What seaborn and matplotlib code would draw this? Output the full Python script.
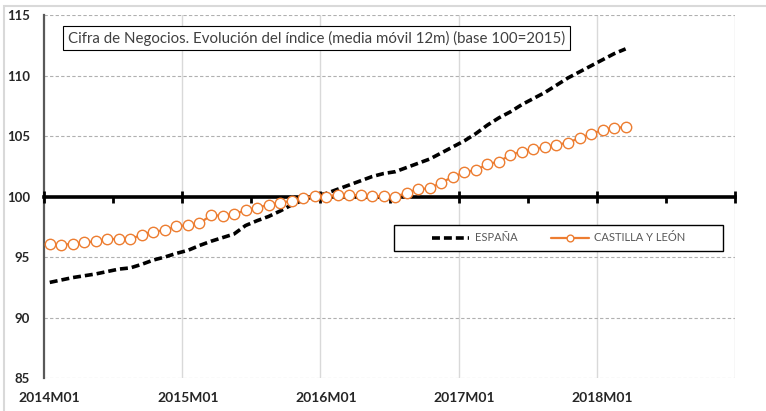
"""
plot.py

Cifra de Negocios: evolución del índice (media móvil 12m), España frente a
Castilla y León, con el eje horizontal cruzando en 100.
"""

# =========================
# Librerías necesarias
# =========================

import numpy as np
import pandas as pd
import matplotlib
matplotlib.use("Agg")
import matplotlib.pyplot as plt
from matplotlib.patches import Rectangle
from matplotlib.ticker import MultipleLocator
import seaborn as sns

# --------------------------------------------------------
# Datos (2014M01 - 2018M03)
# --------------------------------------------------------

espana = [
    92.9, 93.1, 93.3, 93.45, 93.6, 93.8, 94.0, 94.1, 94.4, 94.75,
    95.0, 95.3, 95.55, 95.95, 96.3, 96.6, 96.9, 97.6, 98.0, 98.35,
    98.8, 99.3, 99.7, 100.05, 100.25, 100.6, 100.95, 101.3, 101.65, 101.9,
    102.05, 102.4, 102.75, 103.1, 103.6, 104.1, 104.6, 105.2, 105.9, 106.5,
    107.0, 107.6, 108.1, 108.6, 109.2, 109.8, 110.3, 110.8, 111.3, 111.8,
    112.2,
]

castilla_leon = [
    96.05, 96.0, 96.1, 96.2, 96.3, 96.48, 96.5, 96.47, 96.85, 97.1,
    97.2, 97.55, 97.62, 97.78, 98.45, 98.42, 98.55, 98.85, 99.08, 99.3,
    99.5, 99.62, 99.85, 100.05, 100.0, 100.14, 100.14, 100.1, 100.02, 100.05,
    99.95, 100.33, 100.6, 100.68, 101.15, 101.62, 102.0, 102.18, 102.66, 102.88,
    103.44, 103.71, 103.9, 104.07, 104.26, 104.46, 104.82, 105.17, 105.5, 105.69,
    105.72,
]

etiquetas_anio = ["2014M01", "2015M01", "2016M01", "2017M01", "2018M01"]
n_meses_eje = 60

titulo = "Cifra de Negocios. Evolución del índice (media móvil 12m) (base 100=2015)"

# --------------------------------------------------------
# Estilo
# --------------------------------------------------------

sns.set_style("white")
plt.rcParams["font.family"] = ["Lato", "DejaVu Sans"]

NARANJA = "#ED7D31"
GRIS_REJILLA = "#d9d9d9"

fig = plt.figure(figsize=(7.66, 4.11), dpi=100)
ax = fig.add_axes([44 / 766, 1 - 378 / 411, 691 / 766, 363 / 411])

# marco exterior del gráfico (estilo Excel)
fig.add_artist(Rectangle((4 / 766, -0.1), 1.2, 1.1 - 6 / 411,
                         transform=fig.transFigure, fill=False,
                         ec=GRIS_REJILLA, lw=1.5))

# --- eje principal: rejilla, eje Y y etiquetas de años ---
ax.set_xlim(0, n_meses_eje)
ax.set_ylim(85, 115)
ax.yaxis.set_major_locator(MultipleLocator(5))
ax.yaxis.set_minor_locator(MultipleLocator(2.5))
ax.set_xticks(np.arange(len(etiquetas_anio)) * 12 + 0.5)
ax.set_xticklabels(etiquetas_anio)
ax.set_xticks(np.arange(12, n_meses_eje + 1, 12), minor=True)

ax.grid(axis="y", which="major", color="#b0b0b0", linestyle=(0, (3, 2)), lw=0.8)
ax.grid(axis="x", which="minor", color=GRIS_REJILLA, linestyle="-", lw=1.0)
ax.set_axisbelow(True)

for lado in ["top", "right", "bottom"]:
    ax.spines[lado].set_visible(False)
ax.spines["left"].set_color("#595959")
ax.spines["left"].set_linewidth(1.6)

ax.tick_params(axis="y", which="major", direction="out", length=4, width=1,
               color="#595959", pad=6, labelsize=9.5)
ax.tick_params(axis="y", which="minor", direction="out", length=3, width=1,
               color="#595959")
ax.tick_params(axis="x", which="both", length=0, pad=10, labelsize=10)
for t in ax.get_xticklabels() + ax.get_yticklabels():
    t.set_fontweight("bold")

ax.set_xlabel("")
ax.set_ylabel("")

# --- eje secundario: línea en 100 con marcas y series ---
ax2 = ax.twiny()
ax2.set_xlim(0, n_meses_eje)
for lado in ["top", "right", "left"]:
    ax2.spines[lado].set_visible(False)
ax2.spines["bottom"].set_position(("data", 100))
ax2.spines["bottom"].set_color("black")
ax2.spines["bottom"].set_linewidth(2.6)
ax2.xaxis.set_ticks_position("bottom")
ax2.set_xticks(np.arange(0, n_meses_eje + 1, 12))
ax2.set_xticks(np.arange(6, n_meses_eje, 12), minor=True)
ax2.tick_params(axis="x", which="major", direction="inout", length=8, width=2,
                color="black", labelbottom=False, labeltop=False)
ax2.tick_params(axis="x", which="minor", direction="out", length=4, width=2,
                color="black", labelbottom=False, labeltop=False)

mes = np.arange(len(espana)) + 0.5
df = pd.DataFrame({"mes": mes, "ESPAÑA": espana, "CASTILLA Y LEÓN": castilla_leon})

sns.lineplot(data=df, x="mes", y="ESPAÑA", ax=ax2, color="black", lw=2.6,
             label="ESPAÑA", zorder=3)
ax2.lines[-1].set_dashes([2.2, 1.1])
sns.lineplot(data=df, x="mes", y="CASTILLA Y LEÓN", ax=ax2, color=NARANJA,
             lw=1.6, marker="o", markersize=7.5, markerfacecolor="white",
             markeredgecolor=NARANJA, markeredgewidth=1.0,
             label="CASTILLA Y LEÓN", zorder=3)
ax2.set_xlabel("")
ax2.set_ylabel("")

# --- leyenda con recuadro ---
ax2.add_patch(Rectangle((0.5065, 0.35), 0.476, 0.0715, transform=ax2.transAxes,
                        fc="white", ec="black", lw=1.0, zorder=4))
leg = ax2.legend(loc="center", bbox_to_anchor=(0.7446, 0.3857), ncol=2,
                 frameon=False, fontsize=8, handlelength=3.4, markerscale=0.65,
                 columnspacing=3.0, handletextpad=0.5)
leg.set_zorder(5)
for t in leg.get_texts():
    t.set_color("#595959")

# --- título en recuadro ---
ax2.text(0.3944, 0.9366, titulo, transform=ax2.transAxes, ha="center",
         va="center", fontsize=10.8, fontweight="normal", color="#404040",
         zorder=6,
         bbox=dict(boxstyle="square,pad=0.3", fc="white", ec="black", lw=0.8))

fig.savefig("out.png", dpi=100)
